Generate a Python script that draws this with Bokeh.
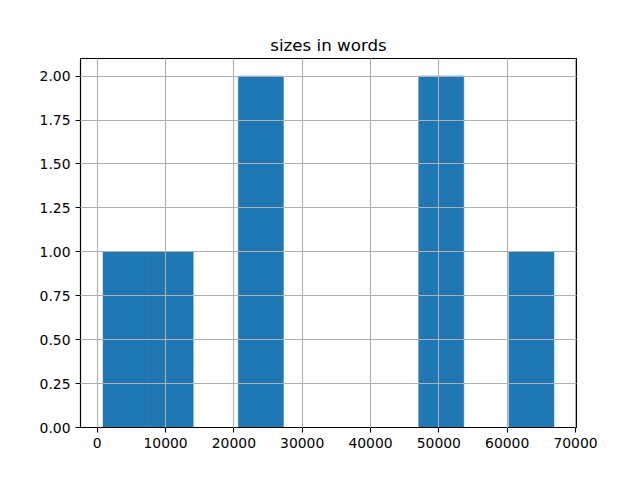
from bokeh.plotting import figure
from bokeh.models import FixedTicker, PrintfTickFormatter, Range1d
from bokeh.embed import file_html
from bokeh.resources import INLINE

# Histogram data (10 bins)
bin_edges = [850, 7450, 14050, 20650, 27250, 33850, 40450, 47050, 53650, 60250, 66850]
counts = [1, 1, 0, 2, 0, 0, 0, 2, 0, 1]
x_ticks = [0, 10000, 20000, 30000, 40000, 50000, 60000, 70000]
y_ticks = [0.0, 0.25, 0.5, 0.75, 1.0, 1.25, 1.5, 1.75, 2.0]
title_text = "sizes in words"

FONT = "DejaVu Sans"

span = bin_edges[-1] - bin_edges[0]
p = figure(width=624, height=464, output_backend="svg", toolbar_location=None,
           x_range=Range1d(bin_edges[0] - 0.05 * span, bin_edges[-1] + 0.05 * span),
           y_range=Range1d(0, max(counts) * 1.05),
           min_border_left=80, min_border_right=48, min_border_top=58, min_border_bottom=37,
           title=title_text)

p.quad(left=bin_edges[:-1], right=bin_edges[1:], bottom=0, top=counts,
       fill_color="#1f77b4", line_color="#1f77b4", line_width=0.5)

p.title.align = "center"
p.title.text_font = FONT
p.title.text_font_size = "16.7px"
p.title.text_font_style = "normal"
p.title.text_color = "black"
p.title.standoff = 8

p.outline_line_color = "black"
p.outline_line_width = 1.1
p.outline_line_alpha = 1.0

for ax in (p.xaxis[0], p.yaxis[0]):
    ax.axis_line_color = "black"
    ax.axis_line_width = 1.1
    ax.major_tick_line_color = "black"
    ax.major_tick_line_width = 1.1
    ax.major_tick_out = 5
    ax.major_tick_in = 0
    ax.minor_tick_line_color = None
    ax.major_label_text_font = FONT
    ax.major_label_text_font_size = "13.9px"
    ax.major_label_text_color = "black"
    ax.major_label_standoff = 5

p.xaxis.ticker = FixedTicker(ticks=x_ticks)
p.xaxis.formatter = PrintfTickFormatter(format="%d")
p.yaxis.ticker = FixedTicker(ticks=y_ticks)
p.yaxis.formatter = PrintfTickFormatter(format="%.2f")

p.grid.grid_line_color = "#b0b0b0"
p.grid.grid_line_width = 1.1
p.grid.grid_line_alpha = 1.0
p.grid.level = "overlay"

p.background_fill_color = "white"
p.border_fill_color = "white"

open("out.html", "w").write(file_html(p, INLINE))
